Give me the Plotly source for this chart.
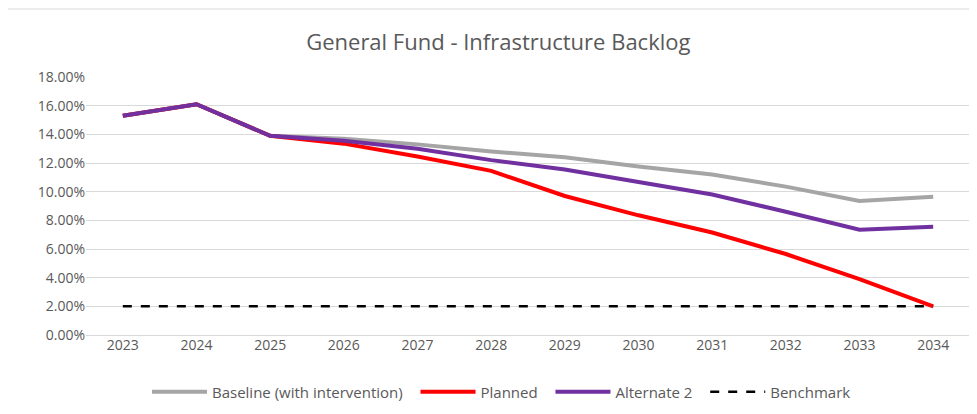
import plotly.graph_objects as go

# chart data
years = ["2023", "2024", "2025", "2026", "2027", "2028", "2029", "2030", "2031", "2032", "2033", "2034"]
baseline = [15.3, 16.1, 13.9, 13.7, 13.3, 12.8, 12.4, 11.75, 11.2, 10.35, 9.35, 9.65]
planned = [15.3, 16.1, 13.9, 13.35, 12.45, 11.45, 9.7, 8.35, 7.15, 5.65, 3.9, 2.0]
alternate2 = [15.3, 16.1, 13.9, 13.55, 13.0, 12.2, 11.55, 10.7, 9.8, 8.6, 7.35, 7.55]
benchmark = [2.0] * 12

font_family = "Open Sans, Liberation Sans, sans-serif"
text_grey = "#595959"
pad = "\u00a0" * 2  # a bit more room between legend entries, like the Excel legend

fig = go.Figure()
fig.add_trace(go.Scatter(x=years, y=baseline, name="Baseline (with intervention)" + pad,
                         mode="lines", line=dict(color="#A5A5A5", width=4)))
fig.add_trace(go.Scatter(x=years, y=planned, name="Planned" + pad,
                         mode="lines", line=dict(color="#FF0000", width=4)))
fig.add_trace(go.Scatter(x=years, y=alternate2, name="Alternate 2" + pad,
                         mode="lines", line=dict(color="#7030A0", width=4)))
fig.add_trace(go.Scatter(x=years, y=benchmark, name="Benchmark",
                         mode="lines", line=dict(color="#000000", width=2.5, dash="dash")))

# the page body adds an 8px offset, so the figure is a bit smaller than the window
fig.update_layout(
    width=969, height=406,
    paper_bgcolor="white", plot_bgcolor="white",
    margin=dict(l=78, r=7, t=69, b=79, autoexpand=False),
    title=dict(text="General Fund - Infrastructure Backlog", x=0.506, xanchor="center",
               y=0.916, yanchor="middle",
               font=dict(family=font_family, size=22, color=text_grey)),
    font=dict(family=font_family, size=14, color=text_grey),
    showlegend=True,
    legend=dict(orientation="h", x=0.47, xanchor="center", y=-0.221, yanchor="middle",
                itemwidth=55, font=dict(size=15, color=text_grey)),
    xaxis=dict(type="category", range=[-0.5, 11.5], showgrid=False, showline=False,
               ticks="", automargin=False, tickfont=dict(size=14, color=text_grey)),
    yaxis=dict(range=[0, 18], dtick=2, showgrid=True, gridcolor="#D9D9D9", gridwidth=1,
               zeroline=True, zerolinecolor="#D9D9D9", zerolinewidth=1,
               ticksuffix="%", tickformat=".2f", ticks="", showline=False,
               automargin=False, tickfont=dict(size=14, color=text_grey)),
    shapes=[dict(type="line", xref="paper", yref="paper",
                 x0=-78 / 884, x1=1 + 7 / 884, y0=1 + 68 / 258, y1=1 + 68 / 258,
                 line=dict(color="#D9D9D9", width=1))],
)

fig.write_html("out.html")
